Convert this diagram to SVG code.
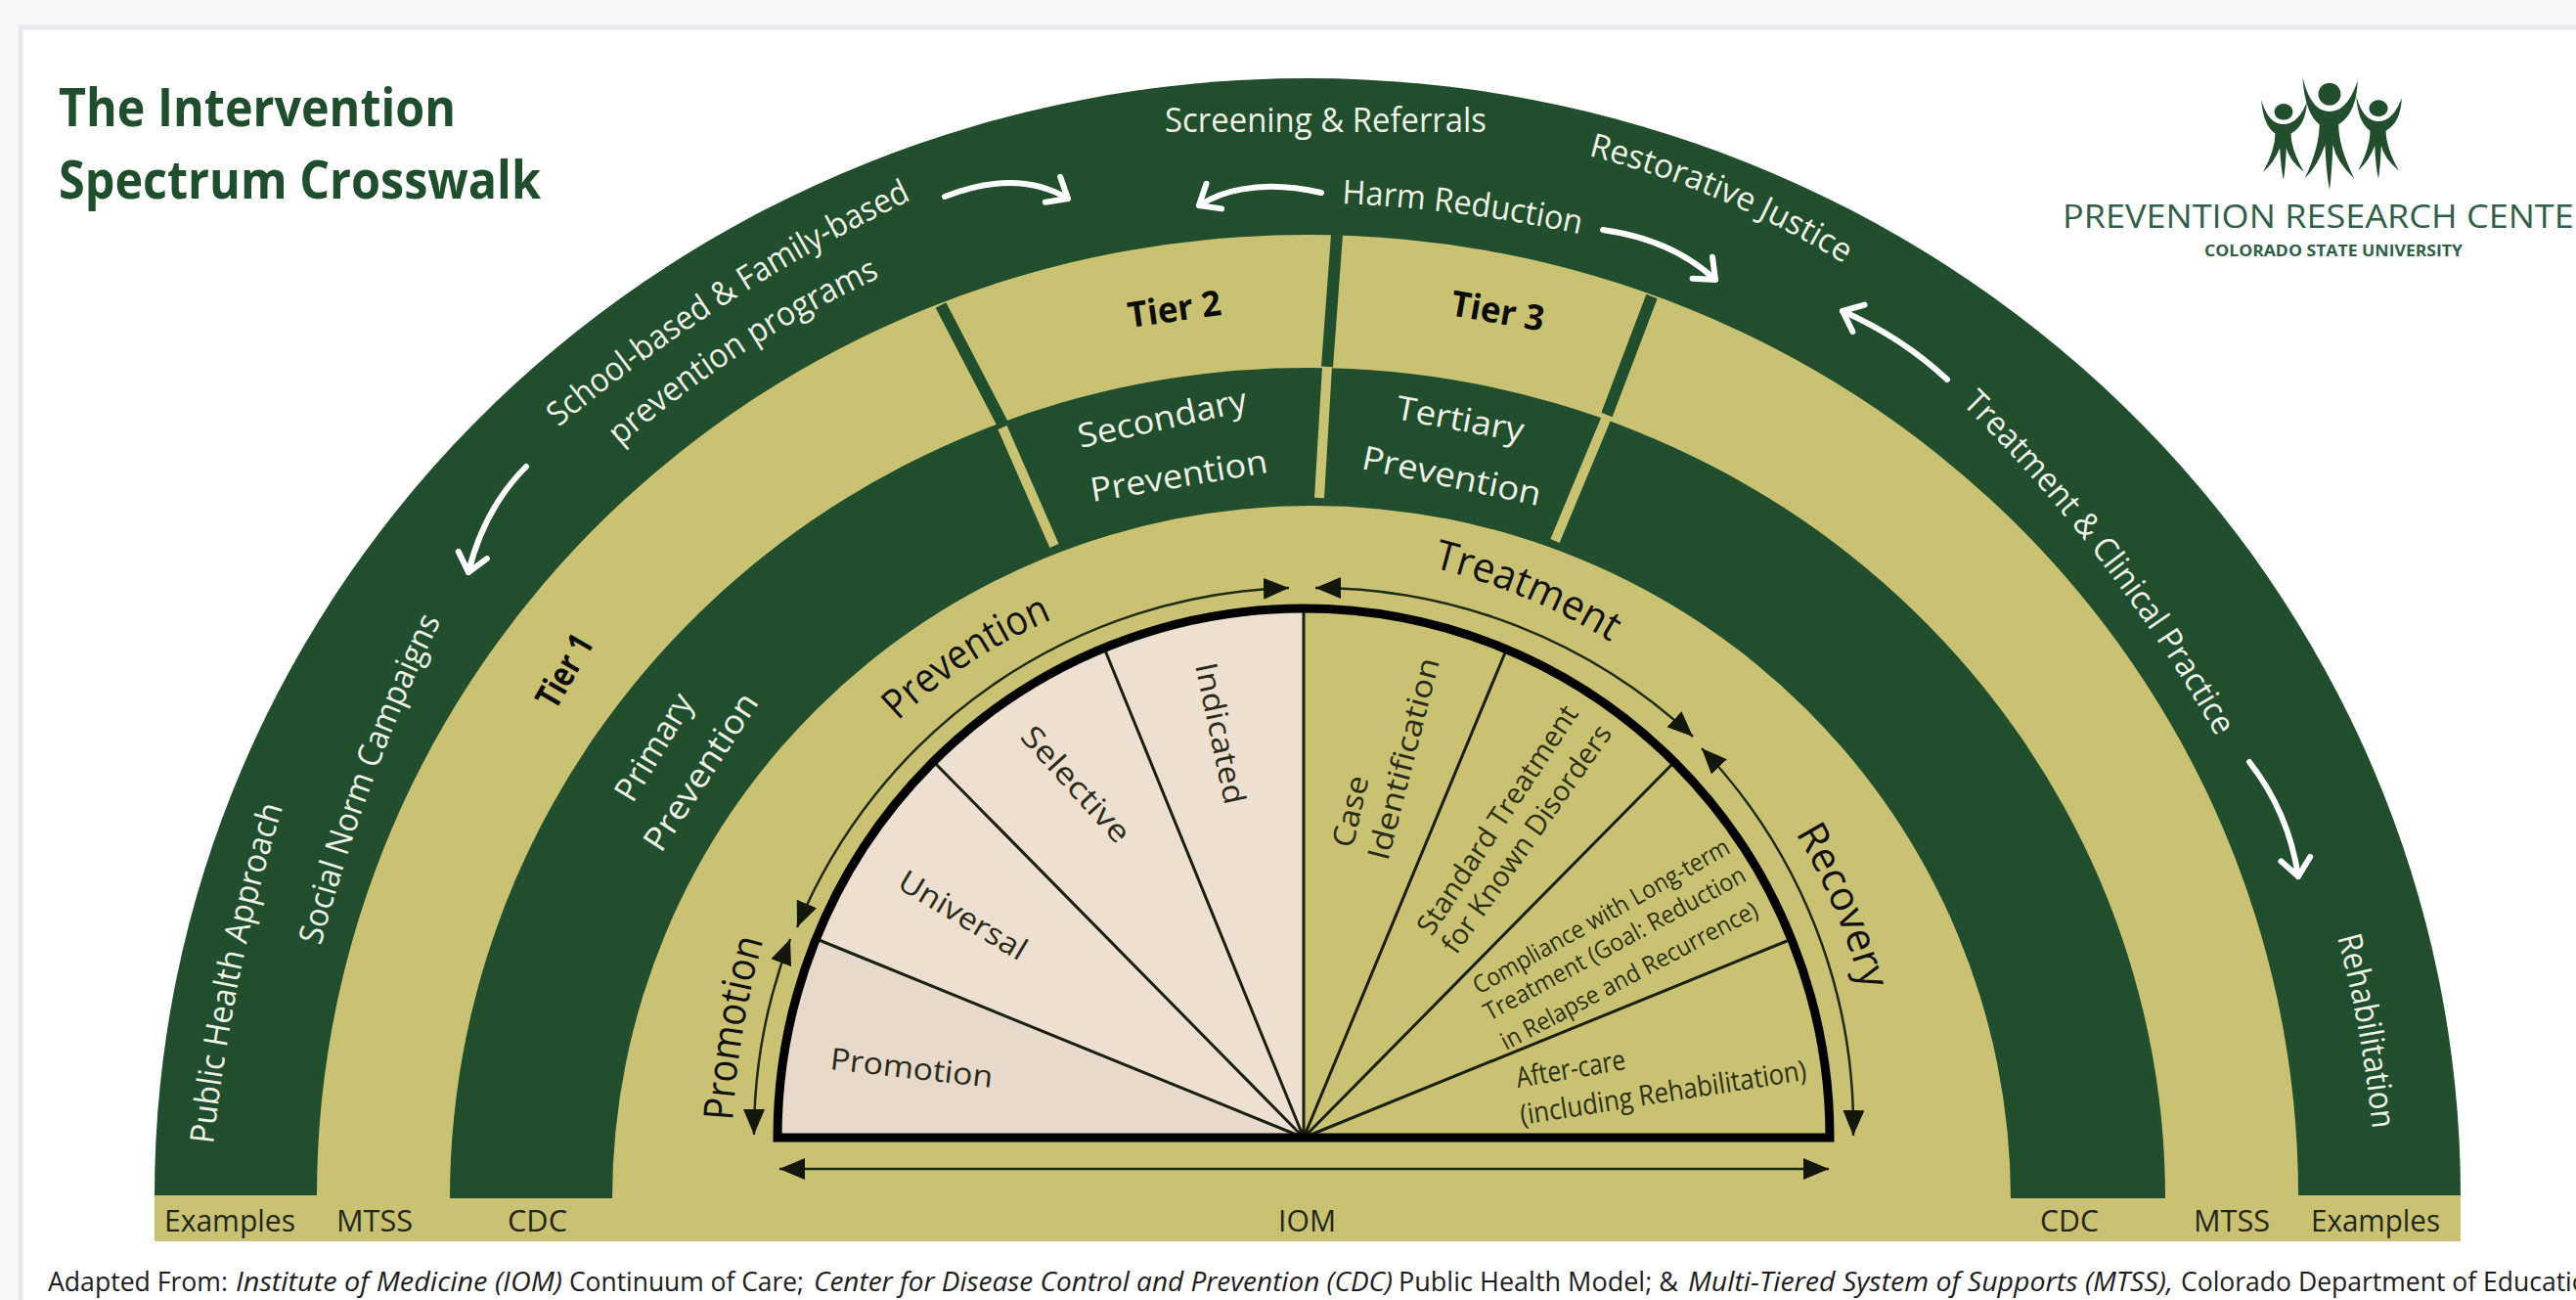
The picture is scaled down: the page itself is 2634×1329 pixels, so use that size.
<svg xmlns="http://www.w3.org/2000/svg" width="2634" height="1329" viewBox="0 0 2634 1329">
<style>
text{font-family:"Open Sans","Liberation Sans",sans-serif}
.lite{fill:#eef2e6;font-size:34px}
.dk{fill:#2a2a18;font-size:31px}
.sm{fill:#2c3012;font-size:25px}
.sm2{fill:#2c3012;font-size:29px}
.blk{fill:#111;font-size:42px}
.tier{fill:#0c0c0c;font-size:36px;font-weight:700}
.base{fill:#23281a;font-size:31px}
.foot{fill:#1c1c1c;font-size:28px}
.i{font-style:italic}
.ttl{fill:#1f4e2d;font-size:53px;font-weight:700}
.g{fill:#214e2d}.t{fill:#c8c272}
.wa{fill:none;stroke:#fff;stroke-width:6;stroke-linecap:round;marker-end:url(#wh)}
.ba{fill:none;stroke:#1f2a14;stroke-width:2.5;marker-start:url(#tri);marker-end:url(#tri)}
.sp{stroke:#1a2010;stroke-width:3;fill:none}
</style>
<defs>
<marker id="wh" markerUnits="userSpaceOnUse" markerWidth="40" markerHeight="40" viewBox="0 0 40 40" refX="34" refY="20" orient="auto"><path d="M16 5L34 20L16 35" fill="none" stroke="#fff" stroke-width="6" stroke-linecap="round" stroke-linejoin="round"/></marker>
<marker id="tri" markerUnits="userSpaceOnUse" markerWidth="28" markerHeight="24" viewBox="0 0 28 24" refX="26" refY="12" orient="auto-start-reverse"><path d="M0 1L26 12L0 23Z" fill="#14180c"/></marker>
<path id="man" d="M-24,0Q-18,24 -7,29Q0,32 7,29Q18,24 25,3Q24,32 8,42Q8,62 22,90Q6,75 3,60Q2,85 0,100Q-3,85 -4,60Q-10,78 -22,90Q-9,62 -9,42Q-22,32 -24,0ZM0,5a10,10 0 1 0 .01,0Z" fill="#214e2d" fill-rule="evenodd"/>
<path id="pSchool" d="M571,437Q735,300 934,203"/>
<path id="pProg" d="M634,456Q755,350 903,282"/>
<path id="pHarm" d="M1372,208Q1500,214 1618,240"/>
<path id="pRest" d="M1624,159Q1765,195 1888,271"/>
<path id="pTreat" d="M2006,413Q2160,565 2268,756"/>
<path id="pRehab" d="M2390,958Q2415,1050 2426,1155"/>
<path id="pPub" d="M218,1170Q238,990 290,822"/>
<path id="pSoc" d="M328,967Q375,790 452,632"/>
<path id="pPrev" d="M918,737Q990,668 1084,630"/>
<path id="pTr" d="M1465,580Q1565,605 1650,658"/>
<path id="pPromo" d="M749,1146Q755,1050 781,958"/>
<path id="pRec" d="M1836,852Q1880,925 1905,1015"/>
</defs>
<rect width="2634" height="1329" fill="#f8f8f9"/>
<rect x="21" y="28" width="2640" height="1330" fill="#fff" stroke="#e8e8ee" stroke-width="5"/>

<g id="title"><text class="ttl" x="60" y="129" textLength="406" lengthAdjust="spacingAndGlyphs">The Intervention</text><text class="ttl" x="60" y="203" textLength="493" lengthAdjust="spacingAndGlyphs">Spectrum Crosswalk</text></g>

<g id="logo">
<use href="#man" transform="translate(2382,79) scale(1.15)"/>
<use href="#man" transform="translate(2335,102) scale(.95,.82)"/>
<use href="#man" transform="translate(2432,98) scale(.95,.85)"/>
<text x="2109" y="233" font-size="33" font-weight="400" fill="#2f5f47" textLength="545" lengthAdjust="spacingAndGlyphs">PREVENTION RESEARCH CENTER</text>
<text x="2254" y="262" font-size="16" font-weight="700" fill="#2f5f47" textLength="264" lengthAdjust="spacingAndGlyphs">COLORADO STATE UNIVERSITY</text>
</g>

<g id="ring-examples">
<path class="g" d="M158,1222A1179,1142 0 0 1 2516,1222Z"/>
<text class="lite" x="1191" y="135" textLength="329" lengthAdjust="spacingAndGlyphs">Screening &amp; Referrals</text>
<text class="lite"><textPath href="#pHarm" textLength="246" lengthAdjust="spacingAndGlyphs">Harm Reduction</textPath></text>
<text class="lite"><textPath href="#pRest" textLength="285" lengthAdjust="spacingAndGlyphs">Restorative Justice</textPath></text>
<text class="lite"><textPath href="#pTreat" textLength="430" lengthAdjust="spacingAndGlyphs">Treatment &amp; Clinical Practice</textPath></text>
<text class="lite"><textPath href="#pRehab" textLength="200" lengthAdjust="spacingAndGlyphs">Rehabilitation</textPath></text>
<text class="lite"><textPath href="#pPub" textLength="353" lengthAdjust="spacingAndGlyphs">Public Health Approach</textPath></text>
<text class="lite"><textPath href="#pSchool" textLength="431" lengthAdjust="spacingAndGlyphs">School-based &amp; Family-based</textPath></text>
<text class="lite"><textPath href="#pProg" textLength="318" lengthAdjust="spacingAndGlyphs">prevention programs</textPath></text>
</g>
<g id="ring-mtss">
<path class="t" d="M324,1269V1222A1013,982 0 0 1 2350,1222V1269Z"/>
<rect class="t" x="158" y="1222" width="2358" height="47"/>
</g>
<g id="ring-cdc">
<path class="g" d="M460,1225A877,849 0 0 1 2214,1225Z"/>
<text class="lite"><textPath href="#pSoc" textLength="355" lengthAdjust="spacingAndGlyphs">Social Norm Campaigns</textPath></text>
</g>
<g id="ring-iom">
<path class="t" d="M626,1226A715,709 0 0 1 2056,1226Z"/>
</g>
<g id="dividers">
<path d="M962,312L1025,433M1367,240L1357,375M1689,303L1643,424" stroke="#214e2d" stroke-width="12" fill="none"/>
<path d="M1025,437L1078,558M1357,375L1349,509M1643,426L1590,553" stroke="#c8c272" stroke-width="10" fill="none"/>
</g>
<g id="tier-labels">
<text class="tier" x="0" y="0" text-anchor="middle" textLength="80" lengthAdjust="spacingAndGlyphs" transform="translate(588,692) rotate(-60)">Tier 1</text>
<text class="tier" x="1155" y="335" textLength="96" lengthAdjust="spacingAndGlyphs" transform="rotate(-8 1155 335)">Tier 2</text>
<text class="tier" x="1482" y="322" textLength="96" lengthAdjust="spacingAndGlyphs" transform="rotate(10 1482 322)">Tier 3</text>
<text class="lite" x="647" y="822" textLength="122" lengthAdjust="spacingAndGlyphs" transform="rotate(-58.8 647 822)">Primary</text>
<text class="lite" x="676" y="873" textLength="185" lengthAdjust="spacingAndGlyphs" transform="rotate(-57 676 873)">Prevention</text>
<text class="lite" x="1105" y="458" textLength="176" lengthAdjust="spacingAndGlyphs" transform="rotate(-12.5 1105 458)">Secondary</text>
<text class="lite" x="1117" y="513" textLength="183" lengthAdjust="spacingAndGlyphs" transform="rotate(-9.5 1117 513)">Prevention</text>
<text class="lite" x="1426" y="428" textLength="132" lengthAdjust="spacingAndGlyphs" transform="rotate(10.5 1426 428)">Tertiary</text>
<text class="lite" x="1391" y="479" textLength="186" lengthAdjust="spacingAndGlyphs" transform="rotate(11.8 1391 479)">Prevention</text>
</g>
<g id="fan">
<path d="M1333,1163H795A538,541 0 0 1 1333,622Z" fill="#eee0d0"/>
<path d="M1333,1163H795A538,541 0 0 1 835,960Z" fill="#e8dacb"/>
<path class="sp" d="M1333,1163L835,960M1333,1163L953,777M1333,1163L1128,660M1333,1163V622M1333,1163L1542,660M1333,1163L1712,779M1333,1163L1832,960"/>
<path d="M795,1163A538,541 0 0 1 1871,1163Z" fill="none" stroke="#000" stroke-width="9"/>
<text class="dk" x="848" y="1093" textLength="167" lengthAdjust="spacingAndGlyphs" transform="rotate(6.5 848 1093)">Promotion</text>
<text class="dk" x="916" y="907" textLength="147" lengthAdjust="spacingAndGlyphs" transform="rotate(31 916 907)">Universal</text>
<text class="dk" x="1042" y="754" textLength="149" lengthAdjust="spacingAndGlyphs" transform="rotate(47.7 1042 754)">Selective</text>
<text class="dk" x="1222" y="680" textLength="147" lengthAdjust="spacingAndGlyphs" transform="rotate(78 1222 680)">Indicated</text>
<text class="dk" x="1383" y="868" textLength="74" lengthAdjust="spacingAndGlyphs" transform="rotate(-77 1383 868)">Case</text>
<text class="dk" x="1419" y="881" textLength="212" lengthAdjust="spacingAndGlyphs" transform="rotate(-75.5 1419 881)">Identification</text>
<text class="sm2" x="1464" y="958" textLength="274" lengthAdjust="spacingAndGlyphs" transform="rotate(-56.6 1464 958)">Standard Treatment</text>
<text class="sm2" x="1489" y="977" textLength="278" lengthAdjust="spacingAndGlyphs" transform="rotate(-54.8 1489 977)">for Known Disorders</text>
<text class="sm" x="1512" y="1017" textLength="297" lengthAdjust="spacingAndGlyphs" transform="rotate(-29.4 1512 1017)">Compliance with Long-term</text>
<text class="sm" x="1523" y="1044" textLength="301" lengthAdjust="spacingAndGlyphs" transform="rotate(-28.6 1523 1044)">Treatment (Goal: Reduction</text>
<text class="sm" x="1540" y="1074" textLength="294" lengthAdjust="spacingAndGlyphs" transform="rotate(-28 1540 1074)">in Relapse and Recurrence)</text>
<text class="sm2" x="1552" y="1112" textLength="113" lengthAdjust="spacingAndGlyphs" transform="rotate(-9.7 1552 1112)">After-care</text>
<text class="sm2" x="1556" y="1150" textLength="296" lengthAdjust="spacingAndGlyphs" transform="rotate(-9 1556 1150)">(including Rehabilitation)</text>
</g>
<g id="scale-labels">
<text class="blk"><textPath href="#pPromo" textLength="188" lengthAdjust="spacingAndGlyphs">Promotion</textPath></text>
<text class="blk"><textPath href="#pPrev" textLength="190" lengthAdjust="spacingAndGlyphs">Prevention</textPath></text>
<text class="blk"><textPath href="#pTr" textLength="198" lengthAdjust="spacingAndGlyphs">Treatment</textPath></text>
<text class="blk"><textPath href="#pRec" textLength="175" lengthAdjust="spacingAndGlyphs">Recovery</textPath></text>
</g>
<g id="bottom-labels">
<text class="base" x="168" y="1259" textLength="134" lengthAdjust="spacingAndGlyphs">Examples</text>
<text class="base" x="344" y="1259" textLength="78" lengthAdjust="spacingAndGlyphs">MTSS</text>
<text class="base" x="519" y="1259" textLength="61" lengthAdjust="spacingAndGlyphs">CDC</text>
<text class="base" x="1307" y="1259" textLength="59" lengthAdjust="spacingAndGlyphs">IOM</text>
<text class="base" x="2086" y="1259" textLength="60" lengthAdjust="spacingAndGlyphs">CDC</text>
<text class="base" x="2243" y="1259" textLength="78" lengthAdjust="spacingAndGlyphs">MTSS</text>
<text class="base" x="2363" y="1259" textLength="132" lengthAdjust="spacingAndGlyphs">Examples</text>
</g>
<g id="connectors">
<path class="wa" d="M966,201Q1040,172 1092,203"/>
<path class="wa" d="M1351,197Q1275,180 1226,210"/>
<path class="wa" d="M1639,235Q1710,245 1754,286"/>
<path class="wa" d="M1991,388Q1945,345 1884,318"/>
<path class="wa" d="M538,477Q495,520 479,585"/>
<path class="wa" d="M2300,779Q2340,830 2350,896"/>
<path class="ba" d="M808,960A562,562 0 0 0 771,1160"/>
<path class="ba" d="M1318,601A562,562 0 0 0 815,948"/>
<path class="ba" d="M1345,601A566,566 0 0 1 1731,753"/>
<path class="ba" d="M1740,765A562,562 0 0 1 1895,1161"/>
<path class="ba" d="M797,1195H1870"/>
</g>
<g id="footer">
<text class="foot" x="49" y="1320" textLength="184" lengthAdjust="spacingAndGlyphs">Adapted From:</text>
<text class="foot i" x="241" y="1320" textLength="334" lengthAdjust="spacingAndGlyphs">Institute of Medicine (IOM)</text>
<text class="foot" x="582" y="1320" textLength="240" lengthAdjust="spacingAndGlyphs">Continuum of Care;</text>
<text class="foot i" x="832" y="1320" textLength="592" lengthAdjust="spacingAndGlyphs">Center for Disease Control and Prevention (CDC)</text>
<text class="foot" x="1430" y="1320" textLength="286" lengthAdjust="spacingAndGlyphs">Public Health Model; &amp;</text>
<text class="foot i" x="1726" y="1320" textLength="496" lengthAdjust="spacingAndGlyphs">Multi-Tiered System of Supports (MTSS),</text>
<text class="foot" x="2230" y="1320" textLength="432" lengthAdjust="spacingAndGlyphs">Colorado Department of Education</text>
</g>
</svg>
